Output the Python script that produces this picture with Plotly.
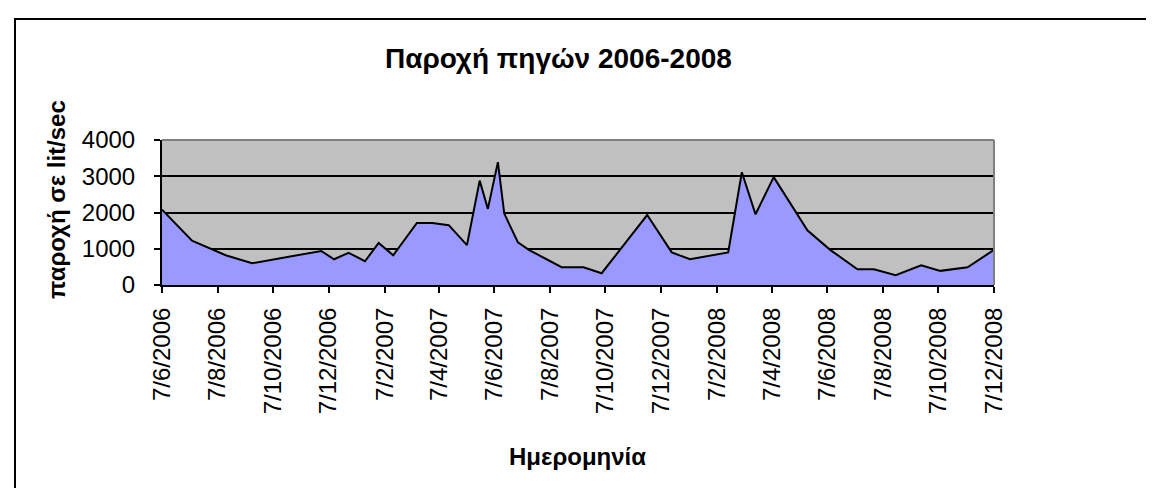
import plotly.graph_objects as go

# ---- data ----
dates = [
    "2006-06-07", "2006-07-10", "2006-08-16", "2006-09-14", "2006-11-29",
    "2006-12-13", "2006-12-29", "2007-01-16", "2007-01-31", "2007-02-16",
    "2007-03-14", "2007-03-31", "2007-04-18", "2007-05-08", "2007-05-22",
    "2007-05-31", "2007-06-11", "2007-06-18", "2007-07-03", "2007-07-15",
    "2007-08-20", "2007-09-13", "2007-10-03", "2007-11-22", "2007-12-19",
    "2008-01-08", "2008-02-19", "2008-03-05", "2008-03-20", "2008-04-09",
    "2008-05-16", "2008-06-10", "2008-07-10", "2008-07-28", "2008-08-21",
    "2008-09-18", "2008-10-09", "2008-11-08", "2008-12-07",
]
flow = [
    2080, 1220, 820, 600, 940,
    710, 890, 655, 1160, 820,
    1710, 1710, 1650, 1100, 2880,
    2100, 3390, 1970, 1175, 970,
    490, 490, 325, 1930, 900,
    710, 900, 3110, 1950, 2975,
    1510, 970, 435, 435, 270,
    545, 390, 490, 970,
]
tick_dates = [
    "2006-06-07", "2006-08-07", "2006-10-07", "2006-12-07",
    "2007-02-07", "2007-04-07", "2007-06-07", "2007-08-07",
    "2007-10-07", "2007-12-07", "2008-02-07", "2008-04-07",
    "2008-06-07", "2008-08-07", "2008-10-07", "2008-12-07",
]
tick_text = [
    "7/6/2006", "7/8/2006", "7/10/2006", "7/12/2006",
    "7/2/2007", "7/4/2007", "7/6/2007", "7/8/2007",
    "7/10/2007", "7/12/2007", "7/2/2008", "7/4/2008",
    "7/6/2008", "7/8/2008", "7/10/2008", "7/12/2008",
]
y_ticks = [0, 1000, 2000, 3000, 4000]

title_text = "Παροχή πηγών 2006-2008"
x_title = "Ημερομηνία"
y_title = "παροχή σε lit/sec"

# ---- layout geometry (pixels) ----
W, H = 1154, 488
L, R, T, B = 154, 986, 132, 277
pw, ph = R - L, B - T

def px(x):
    return (x - L) / pw

def py(y):
    return (B - y) / ph

FONT = "Liberation Sans, Arial, sans-serif"

fig = go.Figure()
fig.add_trace(go.Scatter(
    x=dates, y=flow, mode="lines", fill="tozeroy",
    fillcolor="#9999FF", line=dict(color="black", width=2),
    hoverinfo="x+y", showlegend=False,
))

fig.update_layout(
    width=W, height=H,
    margin=dict(l=L, r=W - R, t=T, b=H - B),
    paper_bgcolor="white", plot_bgcolor="#C0C0C0",
    font=dict(family=FONT, color="black", size=24),
    showlegend=False,
)

fig.update_xaxes(
    type="date", range=["2006-06-07", "2008-12-07"],
    tickmode="array", tickvals=tick_dates, ticktext=tick_text,
    tickangle=-90, ticks="outside", ticklen=6, tickwidth=2, tickcolor="black",
    tickfont=dict(size=24, family=FONT, color="black"),
    showline=True, linecolor="black", linewidth=2,
    showgrid=False, zeroline=False, ticklabelstandoff=5,
)
fig.update_yaxes(
    range=[0, 4000], tickmode="array", tickvals=y_ticks,
    ticks="outside", ticklen=6, tickwidth=2, tickcolor="black",
    tickfont=dict(size=24, family=FONT, color="black"),
    showline=True, linecolor="black", linewidth=2,
    showgrid=True, gridcolor="black", gridwidth=2,
    zeroline=False, ticklabelstandoff=14,
)

# plot area top/right border (gray)
fig.add_shape(type="line", xref="paper", yref="paper", x0=0, x1=1, y0=1, y1=1,
              line=dict(color="#808080", width=2), layer="above")
fig.add_shape(type="line", xref="paper", yref="paper", x0=1, x1=1, y0=0, y1=1,
              line=dict(color="#808080", width=2), layer="above")

# chart frame
fig.add_shape(type="rect", xref="paper", yref="paper",
              x0=px(7), x1=px(1151), y0=py(485), y1=py(11),
              line=dict(color="black", width=2), fillcolor="rgba(0,0,0,0)")

# titles
fig.add_annotation(text="<b>" + title_text + "</b>", xref="paper", yref="paper",
                   x=px(550), y=py(50), showarrow=False,
                   font=dict(size=28, family=FONT, color="black"),
                   xanchor="center", yanchor="middle")
fig.add_annotation(text="<b>" + x_title + "</b>", xref="paper", yref="paper",
                   x=px(569), y=py(449), showarrow=False,
                   font=dict(size=24, family=FONT, color="black"),
                   xanchor="center", yanchor="middle")
fig.add_annotation(text="<b>" + y_title + "</b>", xref="paper", yref="paper",
                   x=px(48), y=py(192), showarrow=False, textangle=-90,
                   font=dict(size=24, family=FONT, color="black"),
                   xanchor="center", yanchor="middle")

fig.write_html("out.html")
